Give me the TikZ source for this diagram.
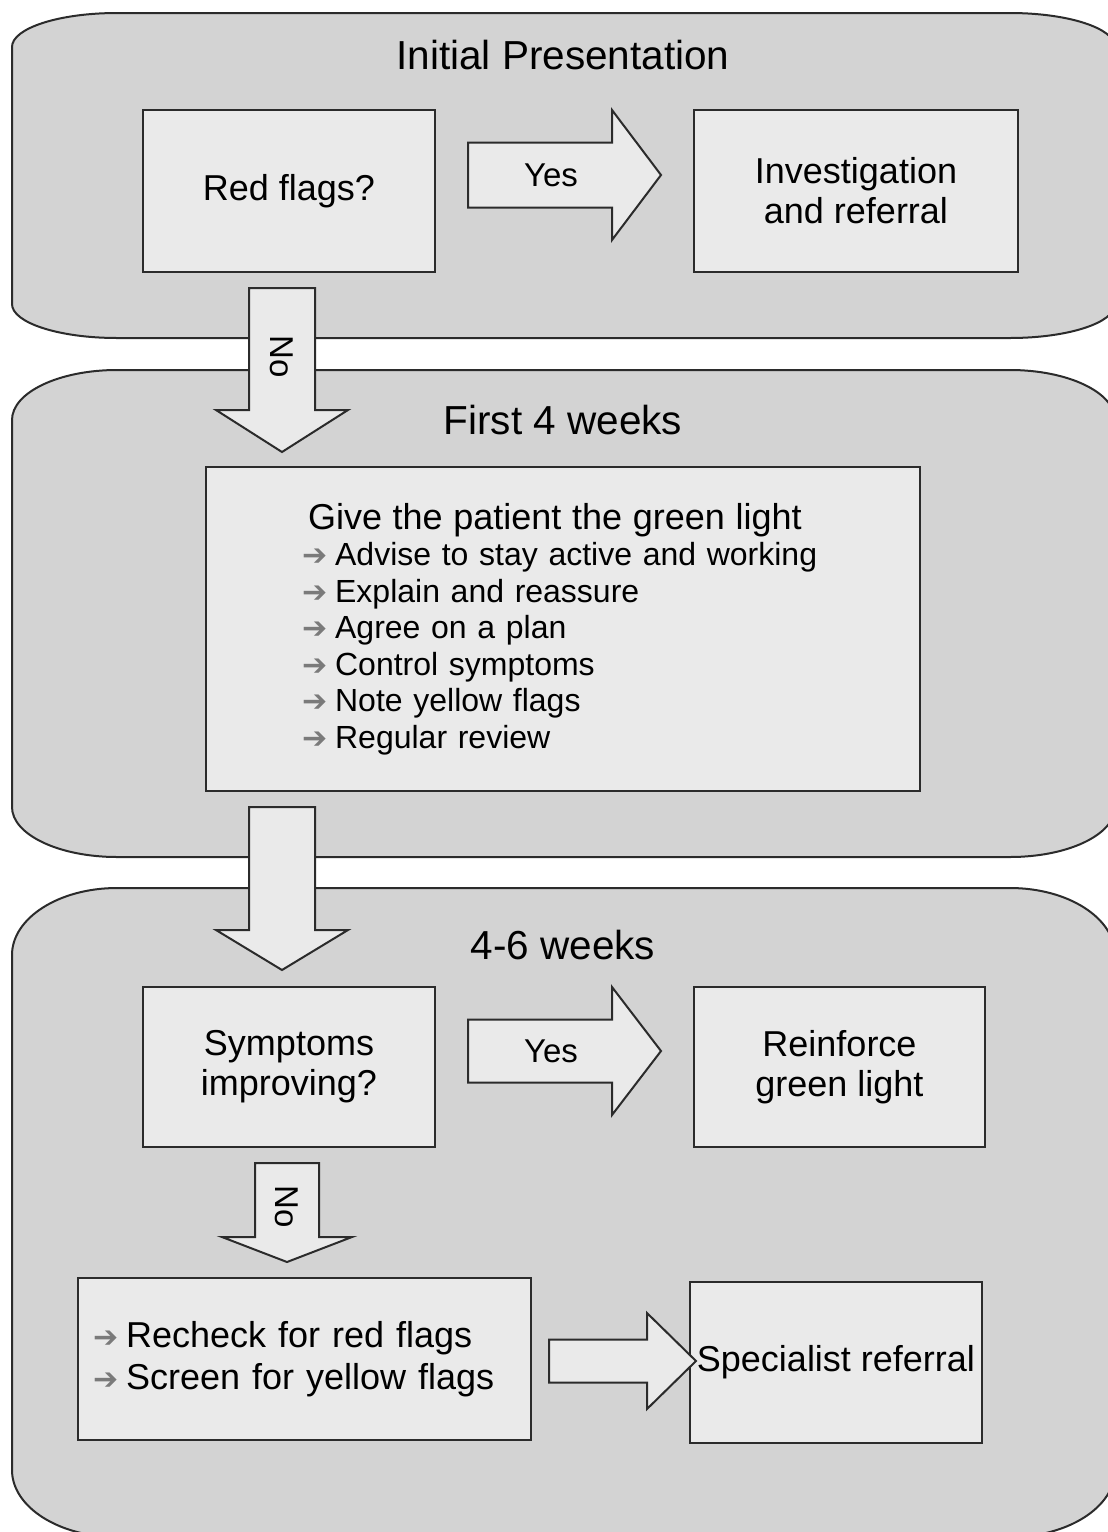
\documentclass[tikz,border=0pt]{standalone}
\usepackage{fontspec}
\setmainfont{Liberation Sans}
\newfontfamily\dingfont{DejaVu Sans}
\usetikzlibrary{calc}
\definecolor{stagefill}{HTML}{D3D3D3}
\definecolor{boxfill}{HTML}{EAEAEA}
\definecolor{edge}{HTML}{2B2B2B}
\definecolor{bulgray}{HTML}{7A7A7A}

% small grey arrow used as list bullet
\newcommand{\bul}{{\dingfont\fontsize{30}{30}\selectfont\color{bulgray}➔}\hspace{8pt}}
% wide block arrow: from, to, shaft half width, head half width, head length
\newcommand{\blockarrow}[5]{%
  \coordinate (hb) at ($(#2)!#5pt!(#1)$);
  \draw[blockarr] ($(#1)!#3pt!90:(#2)$) -- ($(hb)!#3pt!90:(#2)$) -- ($(hb)!#4pt!90:(#2)$) -- (#2)
    -- ($(hb)!#4pt!-90:(#2)$) -- ($(hb)!#3pt!-90:(#2)$) -- ($(#1)!#3pt!-90:(#2)$) -- cycle;}

\begin{document}
\begin{tikzpicture}[x=1pt,y=-1pt,
  stage/.style={draw=edge,line width=2pt,fill=stagefill},
  title/.style={font=\fontsize{40.5}{44}\selectfont},
  flowbox/.style={draw=edge,line width=2pt,fill=boxfill,align=center,inner sep=0pt,font=\fontsize{36}{40}\selectfont},
  blockarr/.style={draw=edge,line width=2pt,fill=boxfill,line join=miter},
  arrlabel/.style={font=\fontsize{33}{36}\selectfont,inner sep=0pt}]
  \useasboundingbox (0,0) rectangle (1108,1532);
  \clip (0,0) rectangle (1108,1532);
  \fill[white] (0,0) rectangle (1108,1532);

  % the three stages
  \foreach \ya/\yb/\ry in {13/338/34,370/857/50,888/1537/67}
    \draw[stage] (12,\ya+\ry) -- (12,\yb-\ry)
      .. controls (12,\yb-0.448*\ry) and (59,\yb) .. (117,\yb) -- (1010,\yb)
      .. controls (1068,\yb) and (1115,\yb-0.448*\ry) .. (1115,\yb-\ry) -- (1115,\ya+\ry)
      .. controls (1115,\ya+0.448*\ry) and (1068,\ya) .. (1010,\ya) -- (117,\ya)
      .. controls (59,\ya) and (12,\ya+0.448*\ry) .. (12,\ya+\ry) -- cycle;
  \node[title] (t1) at (563,55) {Initial Presentation};
  \node[title] (t2) at (563,420) {First 4 weeks};
  \node[title] (t3) at (563,945) {4-6 weeks};

  % boxes
  \node[flowbox,minimum width=292pt,minimum height=162pt] (red) at (289,191) {Red flags?};
  \node[flowbox,minimum width=324pt,minimum height=162pt] (inv) at (856,191) {Investigation\\and referral};
  \node[flowbox,minimum height=324pt,align=left,text width=522pt,inner xsep=96pt,
    font=\fontsize{32}{36.5}\selectfont] (green) at (563,629)
    {\hspace*{6pt}{\fontsize{36}{36.5}\selectfont Give the patient the green light}\\
     \bul Advise to stay active and working\\
     \bul Explain and reassure\\
     \bul Agree on a plan\\
     \bul Control symptoms\\
     \bul Note yellow flags\\
     \bul Regular review};
  \node[flowbox,minimum width=292pt,minimum height=160pt] (symp) at (289,1067) {Symptoms\\improving?};
  \node[flowbox,minimum width=291pt,minimum height=160pt] (reinf) at (839.5,1067) {Reinforce\\green light};
  \node[flowbox,minimum height=162pt,align=left,text width=423pt,inner xsep=15pt,
    font=\fontsize{36}{42}\selectfont] (recheck) at (304.5,1359)
    {\bul Recheck for red flags\\ \bul Screen for yellow flags};
  \node[flowbox,minimum width=292pt,minimum height=161pt] (spec) at (836,1362.5) {Specialist referral};

  % block arrows
  \coordinate (y1s) at ($(red.east)+(32,-16)$);
  \coordinate (y1e) at ($(inv.west)+(-32,-16)$);
  \coordinate (n1s) at (282,288);
  \coordinate (n1e) at (282,452);
  \coordinate (n2s) at (282,807);
  \coordinate (n2e) at (282,970);
  \coordinate (y2s) at ($(symp.east)+(32,-16)$);
  \coordinate (y2e) at ($(reinf.west)+(-32,-16)$);
  \coordinate (n3s) at (287,1163);
  \coordinate (n3e) at (287,1262);
  \coordinate (r1s) at ($(recheck.east)+(17,2)$);
  \coordinate (r1e) at ($(spec.west)+(7,-1.5)$);
  \blockarrow{y1s}{y1e}{32.5}{65}{49}
  \blockarrow{n1s}{n1e}{33}{66}{42}
  \blockarrow{n2s}{n2e}{33}{66}{40}
  \blockarrow{y2s}{y2e}{31.5}{64}{49}
  \blockarrow{n3s}{n3e}{32}{65}{25}
  \blockarrow{r1s}{r1e}{21.5}{48}{49}
  \node[arrlabel] (yes1) at ($(y1s)!0.43!(y1e)$) {Yes};
  \node[arrlabel,rotate=-90] (no1) at ($(n1s)!0.42!(n1e)$) {No};
  \node[arrlabel] (yes2) at ($(y2s)!0.43!(y2e)$) {Yes};
  \node[arrlabel,rotate=-90] (no2) at ($(n3s)!0.44!(n3e)$) {No};
\end{tikzpicture}
\end{document}
